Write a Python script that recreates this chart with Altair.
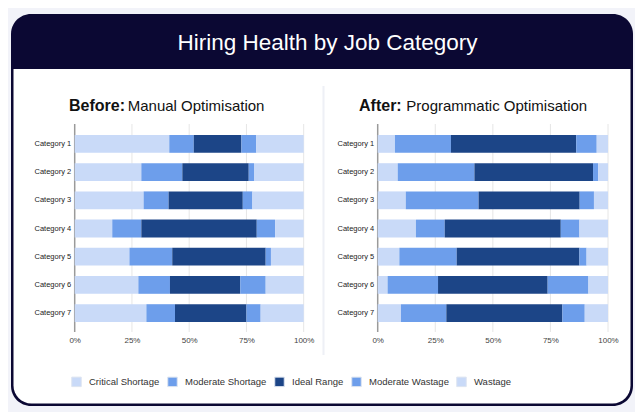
import altair as alt
import pandas as pd

categories = [f"Category {i}" for i in range(1, 8)]
statuses = ["Critical Shortage", "Moderate Shortage", "Ideal Range", "Moderate Wastage", "Wastage"]
status_colors = ["#c9daf8", "#6d9eeb", "#1c4587", "#6d9eeb", "#c9daf8"]

before_critical = [41.3, 29.1, 30.1, 16.4, 23.9, 27.8, 31.3]
before_mod_short = [10.7, 17.9, 10.9, 12.7, 18.7, 13.8, 12.5]
before_ideal = [20.8, 29.0, 32.4, 50.4, 40.8, 30.7, 31.2]
before_mod_waste = [6.5, 2.3, 4.2, 8.0, 2.3, 11.1, 6.2]
before_wastage = [20.7, 21.7, 22.4, 12.5, 14.3, 16.6, 18.8]

after_critical = [7.5, 8.7, 12.2, 16.6, 9.4, 4.3, 10.1]
after_mod_short = [24.3, 33.3, 31.6, 12.5, 24.9, 21.9, 19.7]
after_ideal = [54.4, 51.5, 43.9, 50.4, 53.3, 47.6, 50.4]
after_mod_waste = [8.9, 2.2, 6.2, 8.1, 3.1, 17.7, 9.7]
after_wastage = [4.9, 4.3, 6.1, 12.4, 9.3, 8.5, 10.1]

tick_values = [0, 25, 50, 75, 100]

FONT = "Liberation Sans"


def long_df(series_list):
    rows = []
    for s_i, (status, vals) in enumerate(zip(statuses, series_list)):
        for c, v in zip(categories, vals):
            rows.append({"category": c, "status": status, "order": s_i, "value": v})
    return pd.DataFrame(rows)


before_df = long_df([before_critical, before_mod_short, before_ideal, before_mod_waste, before_wastage])
after_df = long_df([after_critical, after_mod_short, after_ideal, after_mod_waste, after_wastage])
tick_df = pd.DataFrame({"tick": tick_values})

legend = alt.Legend(
    orient="none", legendX=63, legendY=368, direction="horizontal", columns=5,
    title=None, symbolType="square", symbolSize=90, labelFontSize=9.5,
    labelFont=FONT, labelColor="#333333", labelOffset=7, columnPadding=5,
    symbolStrokeColor="#dde4f0", symbolStrokeWidth=1, padding=0, zindex=2,
)
color_scale = alt.Scale(domain=statuses, range=status_colors)


def panel(df, x0, x1):
    xscale = alt.Scale(domain=[0, 100], range=[x0, x1], nice=False, zero=True)
    xaxis = alt.Axis(
        orient="bottom", offset=-80, values=tick_values, labelExpr="datum.value + '%'",
        grid=False, domain=False, ticks=False, labelPadding=4, labelFontSize=8,
        labelColor="#444444", labelFont=FONT, labelFlush=False, title=None, zindex=2,
    )
    yaxis = alt.Axis(
        orient="left", offset=-x0, domain=False, ticks=False, labelPadding=4,
        labelFontSize=7.5, labelColor="#222222", labelFont=FONT, title=None, zindex=2,
    )
    rules = alt.Chart(tick_df).mark_rule().encode(
        x=alt.X("tick:Q", scale=xscale, axis=xaxis),
        y=alt.value(116),
        y2=alt.value(324),
        color=alt.condition("datum.tick == 0", alt.value("#9a9a9a"), alt.value("#e6e6e6")),
        strokeWidth=alt.condition("datum.tick == 0", alt.value(1.5), alt.value(1)),
    )
    bars = alt.Chart(df).mark_bar().encode(
        x=alt.X("value:Q", stack="zero", scale=xscale, axis=xaxis),
        y=alt.Y(
            "category:N", sort=categories,
            scale=alt.Scale(range=[121.8, 319.2], paddingInner=0.369, paddingOuter=0.1845),
            axis=yaxis,
        ),
        color=alt.Color("status:N", scale=color_scale, legend=legend, sort=statuses),
        order=alt.Order("order:Q"),
    )
    return alt.layer(rules, bars)


one = alt.Data(values=[{"a": 1}])

card = alt.Chart(one).mark_rect(fill="#0b0833", cornerRadius=20).encode(
    x=alt.value(3), x2=alt.value(625), y=alt.value(6), y2=alt.value(398)
)
inner = alt.Chart(one).mark_rect(
    fill="white", cornerRadiusBottomLeft=18, cornerRadiusBottomRight=18
).encode(x=alt.value(5.5), x2=alt.value(622.5), y=alt.value(61), y2=alt.value(395.5))

header = alt.Chart(one).mark_text(
    text="Hiring Health by Job Category", font=FONT, fontSize=22.5, color="white",
    align="center", baseline="alphabetic",
).encode(x=alt.value(319.5), y=alt.value(42))

divider = alt.Chart(one).mark_rule(color="#eef0f6", strokeWidth=2).encode(
    x=alt.value(315.5), y=alt.value(78), y2=alt.value(347)
)


def sub(text, x, align, weight, size):
    return alt.Chart(one).mark_text(
        text=text, font=FONT, fontSize=size, fontWeight=weight, color="#111111",
        align=align, baseline="middle",
    ).encode(x=alt.value(x), y=alt.value(97.5))


lt1 = sub("Before:", 117, "right", "bold", 16)
lt2 = sub("Manual Optimisation", 119.7, "left", "normal", 15)
rt1 = sub("After:", 393.7, "right", "bold", 16)
rt2 = sub("Programmatic Optimisation", 398.3, "left", "normal", 15)

left = panel(before_df, 66.7, 295.7)
right = panel(after_df, 369.7, 600)

chart = alt.layer(
    card, inner, header, divider, lt1, lt2, rt1, rt2, left, right
).resolve_scale(x="independent", y="independent").properties(
    width=627, height=404, autosize=alt.AutoSizeParams(type="none"), padding=0,
    background="#f2f3f9",
).configure_view(stroke=None)

chart.save("out.html", embed_options={"renderer": "svg", "actions": False})
